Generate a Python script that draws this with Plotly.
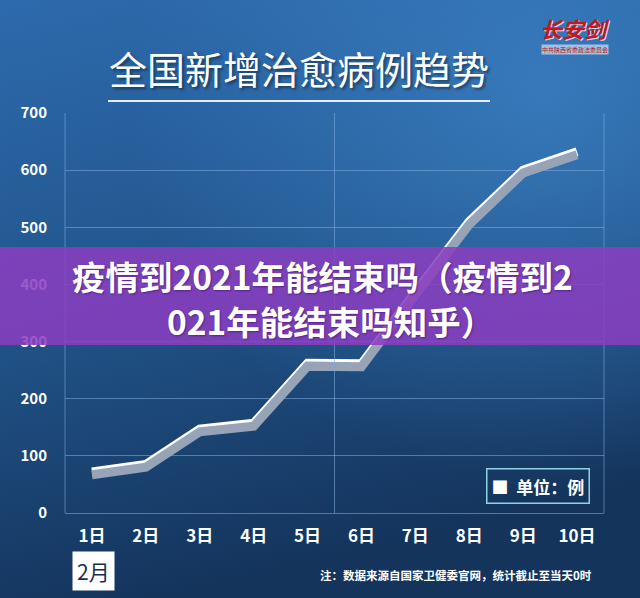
import base64
import plotly.graph_objects as go

# ---- data ----
days = ["1日", "2日", "3日", "4日", "5日", "6日", "7日", "8日", "9日", "10日"]
recovered = [72, 85, 147, 157, 262, 261, 387, 510, 600, 632]
y_ticks = [0, 100, 200, 300, 400, 500, 600, 700]

title_text = "全国新增治愈病例趋势"
banner_line1 = "疫情到2021年能结束吗（疫情到2"
banner_line2 = "021年能结束吗知乎）"
unit_text = "■  单位：例"
month_text = "2月"
note_text = "注：数据来源自国家卫健委官网，统计截止至当天0时"

# ---- geometry helpers (pixels -> paper) ----
W, H = 640, 598
L, R, T, B = 65, 36, 113, 85
PW, PH = W - L - R, H - T - B


def px(x):
    return (x - L) / PW


def py(y):
    return (H - B - y) / PH


FONT = "Noto Sans CJK SC"

svg = """<svg xmlns='http://www.w3.org/2000/svg' width='640' height='598' viewBox='0 0 640 598' preserveAspectRatio='none'>
<defs>
<linearGradient id='g' x1='0' y1='0' x2='0.25' y2='1'>
<stop offset='0' stop-color='#2d6aad'/>
<stop offset='0.45' stop-color='#235890'/>
<stop offset='1' stop-color='#14345c'/>
</linearGradient>
<radialGradient id='r' cx='0.85' cy='0.15' r='0.65'>
<stop offset='0' stop-color='#4088ce' stop-opacity='0.65'/>
<stop offset='1' stop-color='#4088ce' stop-opacity='0'/>
</radialGradient>
</defs>
<rect width='640' height='598' fill='url(#g)'/>
<rect width='640' height='598' fill='url(#r)'/>
</svg>"""
bg_src = "data:image/svg+xml;base64," + base64.b64encode(svg.encode()).decode()

fig = go.Figure()
fig.add_trace(go.Scatter(x=days, y=recovered, yaxis="y2", mode="lines",
                         line=dict(color="#97a3b6", width=9), hoverinfo="skip", showlegend=False))
fig.add_trace(go.Scatter(x=days, y=recovered, mode="lines",
                         line=dict(color="#ffffff", width=9), showlegend=False))

grid = "rgba(130,175,225,0.55)"

fig.update_layout(
    width=W, height=H,
    margin=dict(l=L, r=R, t=T, b=B, pad=0),
    paper_bgcolor="#214f85",
    plot_bgcolor="rgba(0,0,0,0)",
    images=[dict(source=bg_src, xref="paper", yref="paper", x=px(0), y=py(0),
                 sizex=W / PW, sizey=H / PH, xanchor="left", yanchor="top",
                 sizing="stretch", layer="below")],
    xaxis=dict(type="category", range=[-0.5, 9.5], showgrid=False, zeroline=False,
               showline=False, ticks="outside", ticklen=8, tickcolor="rgba(0,0,0,0)",
               tickfont=dict(family=FONT, size=17, color="white", weight="bold")),
    yaxis=dict(range=[0, 700], tickvals=y_ticks, showgrid=True, gridcolor=grid, gridwidth=1,
               zeroline=True, zerolinecolor=grid, zerolinewidth=1, showline=False,
               ticks="outside", ticklen=14, tickcolor="rgba(0,0,0,0)",
               tickfont=dict(family=FONT, size=15, color="white", weight="bold")),
    yaxis2=dict(range=[5, 705], overlaying="y", visible=False),
    showlegend=False,
    hovermode=False,
)

shapes = [
    dict(type="line", xref="paper", yref="paper", x0=0, x1=0, y0=0, y1=1,
         line=dict(color=grid, width=1)),
    dict(type="line", xref="paper", yref="paper", x0=1, x1=1, y0=0, y1=1,
         line=dict(color=grid, width=1)),
    dict(type="line", xref="x", yref="paper", x0=4.5, x1=4.5, y0=0, y1=1,
         line=dict(color=grid, width=1)),
    dict(type="line", xref="paper", yref="paper", x0=px(108), x1=px(490), y0=py(101), y1=py(101),
         line=dict(color="rgba(235,245,255,0.95)", width=2)),
    dict(type="rect", xref="paper", yref="paper", x0=px(0), x1=px(W), y0=py(345), y1=py(247),
         fillcolor="rgba(138,62,192,0.86)", line=dict(width=0), layer="above"),
]
fig.update_layout(shapes=shapes)

ann = []
ann.append(dict(text=title_text, xref="paper", yref="paper", x=px(299), y=py(68),
                xanchor="center", yanchor="middle", showarrow=False,
                font=dict(family=FONT, size=38, color="white",
                          shadow="2px 2px 3px rgba(0,0,0,0.45)")))
ann.append(dict(text=banner_line1, xref="paper", yref="paper", x=px(322), y=py(275),
                xanchor="center", yanchor="middle", showarrow=False, borderpad=0,
                font=dict(family=FONT, size=33.5, color="white", weight="bold",
                          shadow="1px 1px 2px rgba(60,0,90,0.5)")))
ann.append(dict(text=banner_line2, xref="paper", yref="paper", x=px(330), y=py(320.5),
                xanchor="center", yanchor="middle", showarrow=False, borderpad=0,
                font=dict(family=FONT, size=33.5, color="white", weight="bold",
                          shadow="1px 1px 2px rgba(60,0,90,0.5)")))
ann.append(dict(text=unit_text, xref="paper", yref="paper", x=px(538), y=py(486),
                xanchor="center", yanchor="middle", showarrow=False,
                bordercolor="#8fd3e3", borderwidth=1.5, borderpad=4,
                font=dict(family=FONT, size=17, color="white", weight="bold")))
ann.append(dict(text=month_text, xref="paper", yref="paper", x=px(93), y=py(571),
                xanchor="center", yanchor="middle", showarrow=False,
                bgcolor="white", borderpad=4,
                font=dict(family=FONT, size=21, color="#1c2d4c")))
ann.append(dict(text=note_text, xref="paper", yref="paper", x=px(594), y=py(575),
                xanchor="right", yanchor="middle", showarrow=False,
                font=dict(family=FONT, size=11.5, color="white", weight="bold")))
ann.append(dict(text="长安剑", xref="paper", yref="paper", x=px(575), y=py(28),
                xanchor="center", yanchor="middle", showarrow=False,
                font=dict(family=FONT, size=22, color="#c8161d", weight="bold", style="italic",
                          shadow="1px 1px 0px rgba(255,255,255,0.8)")))
ann.append(dict(text="中共陕西省委政法委员会", xref="paper", yref="paper", x=px(575), y=py(49),
                xanchor="center", yanchor="middle", showarrow=False,
                bgcolor="rgba(255,255,255,0.55)", borderpad=0,
                font=dict(family=FONT, size=6, color="#b0141a")))
fig.update_layout(annotations=ann)

fig.write_html("out.html", config={"displayModeBar": False, "staticPlot": True},
               post_script="document.body.style.margin='0';document.body.style.overflow='hidden';")
